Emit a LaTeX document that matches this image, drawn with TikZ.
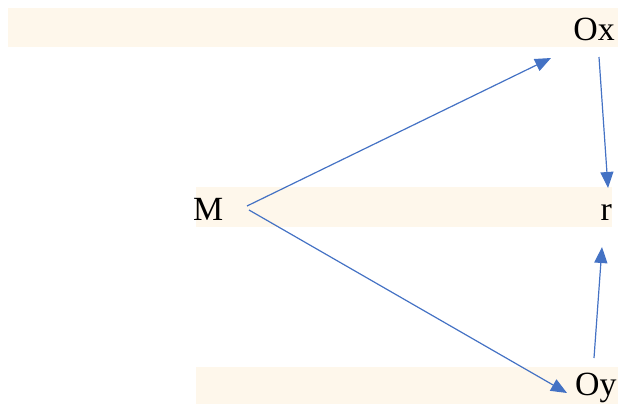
\documentclass[tikz,border=0pt]{standalone}
\usepackage{fontspec}
\setmainfont{Liberation Serif}
\usetikzlibrary{arrows.meta}
\definecolor{band}{HTML}{FEF7EB}
\definecolor{conn}{HTML}{4472C4}
\begin{document}
\begin{tikzpicture}[x=1bp,y=-1bp,
  lbl/.style={inner sep=0pt,font=\fontsize{34}{40}\selectfont},
  bandbox/.style={fill=band,draw=none},
  conarrow/.style={draw=conn,line width=1.2bp,-{Triangle[length=16bp,width=13bp]}}]
\useasboundingbox (0,0) rectangle (618,404);
\fill[bandbox] (8,8) rectangle (618,47);
\fill[bandbox] (196,187) rectangle (612,227);
\fill[bandbox] (196,367) rectangle (618,404);
\node[lbl,anchor=base east] (Ox) at (615,40) {Ox};
\node[lbl,anchor=base west] (M) at (193,220) {M};
\node[lbl,anchor=base east] (r) at (612,220) {r};
\node[lbl,anchor=base west] (Oy) at (575,395) {Oy};
\coordinate (Mout1) at (247,206);
\coordinate (Mout2) at (249,210);
\coordinate (OxIn) at (551,58);
\coordinate (OxOut) at (599,57);
\coordinate (rIn1) at (608,188);
\coordinate (rIn2) at (602,247);
\coordinate (OyOut) at (594,358);
\coordinate (OyIn) at (567,393);
\draw[conarrow] (Mout1) -- (OxIn);
\draw[conarrow] (Mout2) -- (OyIn);
\draw[conarrow] (OxOut) -- (rIn1);
\draw[conarrow] (OyOut) -- (rIn2);
\end{tikzpicture}
\end{document}
